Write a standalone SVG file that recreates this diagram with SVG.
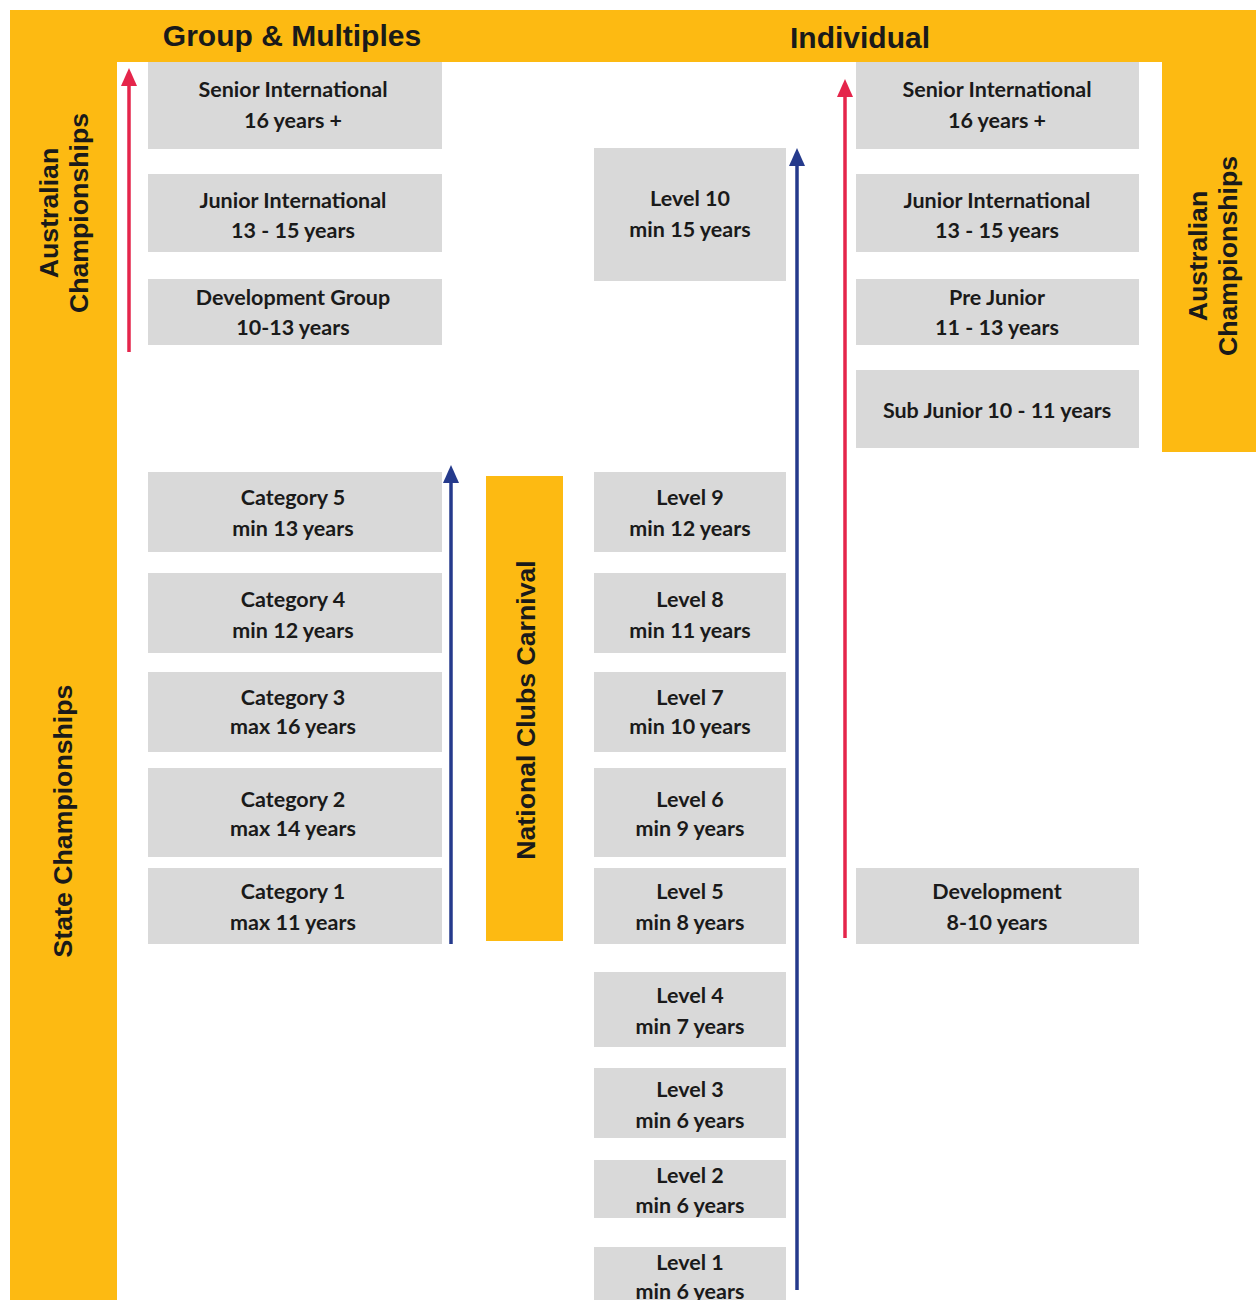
<svg xmlns="http://www.w3.org/2000/svg" width="1256" height="1300" viewBox="0 0 1256 1300">
<style>
.band{fill:#fdba12}
.box{fill:#d9d9d9}
.t{font-family:Lato,"Liberation Sans",sans-serif;font-weight:bold;font-size:21.5px;fill:#1a1a1a;text-anchor:middle}
.h{font-family:"Liberation Sans",Arial,sans-serif;font-weight:bold;font-size:30px;fill:#1a1a1a;text-anchor:middle}
.v{font-family:"Liberation Sans",Arial,sans-serif;font-weight:bold;font-size:26.7px;fill:#1a1a1a;text-anchor:middle}
.red{stroke:#e5254b;stroke-width:3.5;fill:none}
.blue{stroke:#253a8c;stroke-width:3.5;fill:none}
.redh{fill:#e5254b}
.blueh{fill:#253a8c}
</style>
<rect width="1256" height="1300" fill="#ffffff"/>
<g id="frame">
<rect class="band" x="10" y="10" width="1246" height="52"/>
<rect class="band" x="10" y="10" width="107" height="1290"/>
<rect class="band" x="1162" y="10" width="94" height="442"/>
<text class="h" x="292" y="46">Group &amp; Multiples</text>
<text class="h" x="860" y="48">Individual</text>
</g>
<g id="aus-champ-left">
<text class="v" transform="translate(58,213) rotate(-90)">Australian</text>
<text class="v" transform="translate(88,213) rotate(-90)">Championships</text>
</g>
<g id="state-champ">
<text class="v" transform="translate(72,821) rotate(-90)">State Championships</text>
</g>
<g id="aus-champ-right">
<text class="v" transform="translate(1207,256) rotate(-90)">Australian</text>
<text class="v" transform="translate(1237,256) rotate(-90)">Championships</text>
</g>
<g id="national-clubs">
<rect class="band" x="486" y="476" width="77" height="465"/>
<text class="v" transform="translate(535,710) rotate(-90)">National Clubs Carnival</text>
</g>

<g id="g-senior"><rect class="box" x="148" y="62" width="294" height="87"/><text class="t" x="293" y="97">Senior International</text><text class="t" x="293" y="128">16 years +</text></g>
<g id="g-junior"><rect class="box" x="148" y="174" width="294" height="78"/><text class="t" x="293" y="208">Junior International</text><text class="t" x="293" y="238">13 - 15 years</text></g>
<g id="g-dev"><rect class="box" x="148" y="279" width="294" height="66"/><text class="t" x="293" y="305">Development Group</text><text class="t" x="293" y="335">10-13 years</text></g>
<g id="cat5"><rect class="box" x="148" y="472" width="294" height="80"/><text class="t" x="293" y="505">Category 5</text><text class="t" x="293" y="536">min 13 years</text></g>
<g id="cat4"><rect class="box" x="148" y="573" width="294" height="80"/><text class="t" x="293" y="607">Category 4</text><text class="t" x="293" y="638">min 12 years</text></g>
<g id="cat3"><rect class="box" x="148" y="672" width="294" height="80"/><text class="t" x="293" y="705">Category 3</text><text class="t" x="293" y="734">max 16 years</text></g>
<g id="cat2"><rect class="box" x="148" y="768" width="294" height="89"/><text class="t" x="293" y="807">Category 2</text><text class="t" x="293" y="836">max 14 years</text></g>
<g id="cat1"><rect class="box" x="148" y="868" width="294" height="76"/><text class="t" x="293" y="899">Category 1</text><text class="t" x="293" y="930">max 11 years</text></g>

<g id="lvl10"><rect class="box" x="594" y="148" width="192" height="133"/><text class="t" x="690" y="206">Level 10</text><text class="t" x="690" y="237">min 15 years</text></g>
<g id="lvl9"><rect class="box" x="594" y="472" width="192" height="80"/><text class="t" x="690" y="505">Level 9</text><text class="t" x="690" y="536">min 12 years</text></g>
<g id="lvl8"><rect class="box" x="594" y="573" width="192" height="80"/><text class="t" x="690" y="607">Level 8</text><text class="t" x="690" y="638">min 11 years</text></g>
<g id="lvl7"><rect class="box" x="594" y="672" width="192" height="80"/><text class="t" x="690" y="705">Level 7</text><text class="t" x="690" y="734">min 10 years</text></g>
<g id="lvl6"><rect class="box" x="594" y="768" width="192" height="89"/><text class="t" x="690" y="807">Level 6</text><text class="t" x="690" y="836">min 9 years</text></g>
<g id="lvl5"><rect class="box" x="594" y="868" width="192" height="76"/><text class="t" x="690" y="899">Level 5</text><text class="t" x="690" y="930">min 8 years</text></g>
<g id="lvl4"><rect class="box" x="594" y="972" width="192" height="75"/><text class="t" x="690" y="1003">Level 4</text><text class="t" x="690" y="1034">min 7 years</text></g>
<g id="lvl3"><rect class="box" x="594" y="1068" width="192" height="70"/><text class="t" x="690" y="1097">Level 3</text><text class="t" x="690" y="1128">min 6 years</text></g>
<g id="lvl2"><rect class="box" x="594" y="1160" width="192" height="58"/><text class="t" x="690" y="1183">Level 2</text><text class="t" x="690" y="1213">min 6 years</text></g>
<g id="lvl1"><rect class="box" x="594" y="1247" width="192" height="60"/><text class="t" x="690" y="1270">Level 1</text><text class="t" x="690" y="1299">min 6 years</text></g>

<g id="i-senior"><rect class="box" x="856" y="62" width="283" height="87"/><text class="t" x="997" y="97">Senior International</text><text class="t" x="997" y="128">16 years +</text></g>
<g id="i-junior"><rect class="box" x="856" y="174" width="283" height="78"/><text class="t" x="997" y="208">Junior International</text><text class="t" x="997" y="238">13 - 15 years</text></g>
<g id="i-prejunior"><rect class="box" x="856" y="279" width="283" height="66"/><text class="t" x="997" y="305">Pre Junior</text><text class="t" x="997" y="335">11 - 13 years</text></g>
<g id="i-subjunior"><rect class="box" x="856" y="370" width="283" height="78"/><text class="t" x="997" y="418">Sub Junior 10 - 11 years</text></g>
<g id="i-dev"><rect class="box" x="856" y="868" width="283" height="76"/><text class="t" x="997" y="899">Development</text><text class="t" x="997" y="930">8-10 years</text></g>

<g id="connectors">
<line class="red" x1="129" y1="352" x2="129" y2="82"/>
<path class="redh" d="M129 68 L137 86 L121 86 Z"/>
<line class="red" x1="845" y1="938" x2="845" y2="93"/>
<path class="redh" d="M845 79 L853 97 L837 97 Z"/>
<line class="blue" x1="451" y1="944" x2="451" y2="478"/>
<path class="blueh" d="M451 465 L459 483 L443 483 Z"/>
<line class="blue" x1="797" y1="1290" x2="797" y2="162"/>
<path class="blueh" d="M797 148 L805 166 L789 166 Z"/>
</g>
</svg>
